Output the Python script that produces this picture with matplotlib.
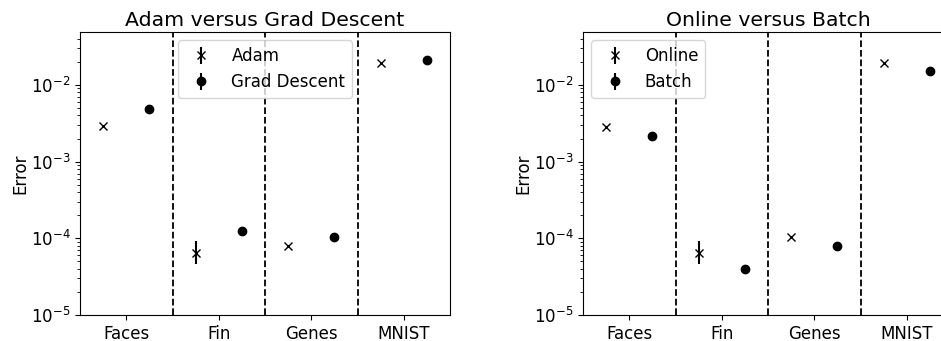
import matplotlib
matplotlib.use("Agg")
import matplotlib.pyplot as plt
import numpy as np

datasets = ["Faces", "Fin", "Genes", "MNIST"]

# Left panel: Adam vs Grad Descent
adam_vals = [2.9e-3, 6.5e-5, 7.9e-5, 1.93e-2]
adam_err_lo = [5e-5, 1.9e-5, 1.5e-6, 3e-4]
adam_err_hi = [5e-5, 2.7e-5, 1.5e-6, 3e-4]
gd_vals = [4.8e-3, 1.24e-4, 1.05e-4, 2.13e-2]
gd_err = [5e-5, 2e-6, 2e-6, 3e-4]

# Right panel: Online vs Batch
online_vals = [2.85e-3, 6.5e-5, 1.05e-4, 1.93e-2]
online_err_lo = [5e-5, 1.9e-5, 2e-6, 3e-4]
online_err_hi = [5e-5, 2.7e-5, 2e-6, 3e-4]
batch_vals = [2.16e-3, 4.0e-5, 7.9e-5, 1.53e-2]
batch_err = [3e-5, 1e-6, 1.5e-6, 2e-4]

plt.rcParams['font.family'] = ['DejaVu Sans']

fig = plt.figure(figsize=(9.41, 3.41), dpi=100)
W, H = 941.0, 341.0
ax1 = fig.add_axes([80 / W, 1 - 315 / H, 370 / W, 283 / H])
ax2 = fig.add_axes([583 / W, 1 - 315 / H, 370 / W, 283 / H])

def panel(ax, v1, e1lo, e1hi, v2, e2, lab1, lab2, title, legloc):
    x = np.arange(len(datasets))
    ax.errorbar(x - 0.25, v1, yerr=[e1lo, e1hi], fmt='x', color='black',
                markersize=5.5, elinewidth=1.5, capsize=0, label=lab1)
    ax.errorbar(x + 0.25, v2, yerr=[e2, e2], fmt='o', color='black',
                markersize=6, elinewidth=1.5, capsize=0, label=lab2)
    ax.set_yscale('log')
    ax.set_ylim(1e-5, 0.049)
    ax.set_xlim(-0.5, 3.5)
    for b in [0.5, 1.5, 2.5]:
        ax.axvline(b, color='black', linestyle='--', linewidth=1.3)
    ax.set_xticks(x)
    ax.set_xticklabels(datasets)
    ax.tick_params(labelsize=12)
    ax.set_ylabel('Error', fontsize=12, labelpad=1)
    ax.set_title(title, fontsize=14.7, pad=4)
    ax.legend(loc=legloc, fontsize=12, borderaxespad=0.5)

panel(ax1, adam_vals, adam_err_lo, adam_err_hi, gd_vals, gd_err,
      'Adam', 'Grad Descent', 'Adam versus Grad Descent', 'upper center')
panel(ax2, online_vals, online_err_lo, online_err_hi, batch_vals, batch_err,
      'Online', 'Batch', 'Online versus Batch', 'upper left')

fig.savefig('out.png', dpi=100)
